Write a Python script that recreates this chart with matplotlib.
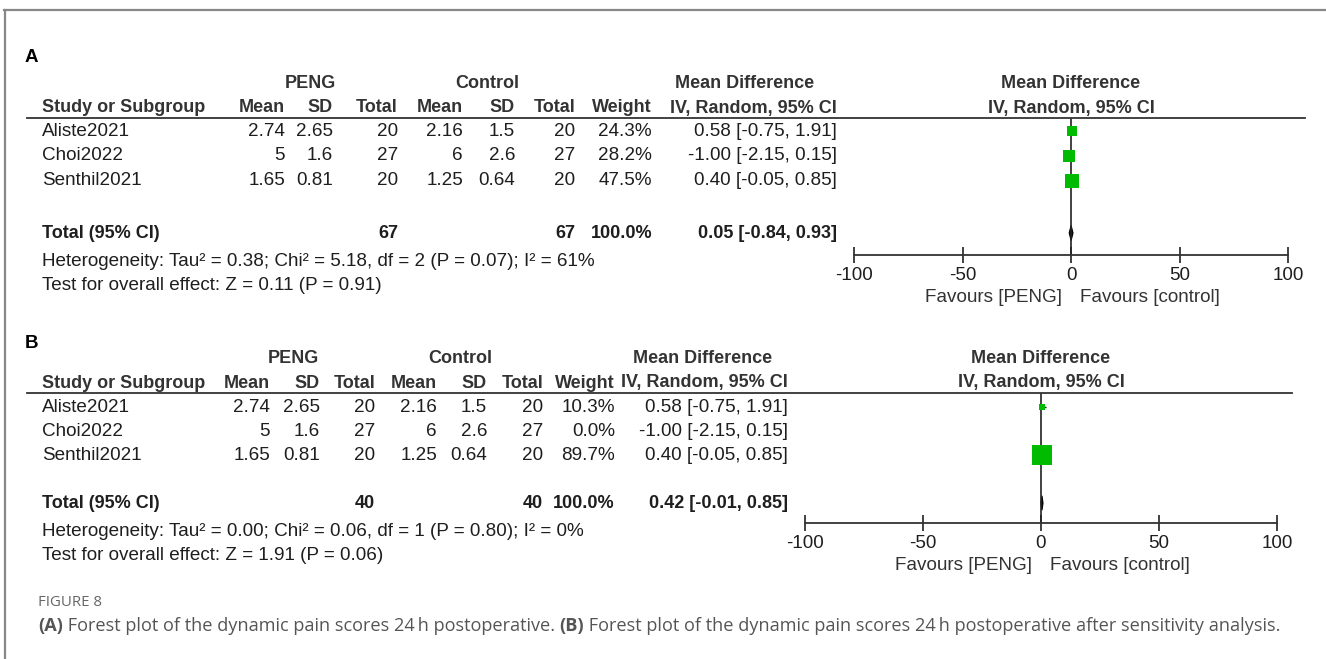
import matplotlib
matplotlib.use('Agg')
import matplotlib.pyplot as plt
from matplotlib.lines import Line2D
import numpy as np

# 데이터
studies = ['Aliste2021', 'Choi2022', 'Senthil2021']
peng_mean = [2.74, 5, 1.65]
peng_sd = [2.65, 1.6, 0.81]
peng_n = [20, 27, 20]
ctrl_mean = [2.16, 6, 1.25]
ctrl_sd = [1.5, 2.6, 0.64]
ctrl_n = [20, 27, 20]
md = [0.58, -1.00, 0.40]
ci_lo = [-0.75, -2.15, -0.05]
ci_hi = [1.91, 0.15, 0.85]

weight_a = [24.3, 28.2, 47.5]
weight_b = [10.3, 0.0, 89.7]
total_n_a = [67, 67]
total_n_b = [40, 40]
total_md_a = [0.05, -0.84, 0.93]
total_md_b = [0.42, -0.01, 0.85]
het_a = 'Heterogeneity: Tau² = 0.38; Chi² = 5.18, df = 2 (P = 0.07); I² = 61%'
test_a = 'Test for overall effect: Z = 0.11 (P = 0.91)'
het_b = 'Heterogeneity: Tau² = 0.00; Chi² = 0.06, df = 1 (P = 0.80); I² = 0%'
test_b = 'Test for overall effect: Z = 1.91 (P = 0.06)'
xticks = [-100, -50, 0, 50, 100]

W, H = 1326, 659
fig = plt.figure(figsize=(W / 100, H / 100), dpi=100)
fig.patch.set_facecolor('white')

FONT = 'Liberation Sans'
FS = 13.6      # 일반 텍스트
FSB = 13.0     # 굵은 텍스트
TXT = '#1e1e1e'
HEAD = '#333333'
GREEN = '#00bb00'


def fx(x):
    return x / W


def fy(y):
    return 1 - y / H


def put(x, y, s, ha='left', bold=False, size=None, color=TXT, family=FONT):
    if size is None:
        size = FSB if bold else FS
    return fig.text(fx(x), fy(y), s, ha=ha, va='center', fontsize=size,
                    fontweight='bold' if bold else 'normal', color=color,
                    family=family)


def hline(x0, x1, y, color='#333333', lw=1.3):
    fig.add_artist(Line2D([fx(x0), fx(x1)], [fy(y), fy(y)], color=color, lw=lw))


def panel(label, lay, weights, tot_n, tot_md, het, test):
    y0 = lay['top']
    put(25, lay['label_y'], label, bold=True, size=13.5, color='black')
    # 그룹 헤더
    put(lay['peng_c'], y0 - 34, 'PENG', ha='center', bold=True, color=HEAD)
    put(lay['ctrl_c'], y0 - 34, 'Control', ha='center', bold=True, color=HEAD)
    put(lay['md_c'], y0 - 34, 'Mean Difference', ha='center', bold=True, color=HEAD)
    cols = lay['cols']
    heads = ['Mean', 'SD', 'Total', 'Mean', 'SD', 'Total', 'Weight', 'IV, Random, 95% CI']
    put(42, y0 - 10, 'Study or Subgroup', bold=True, color=HEAD)
    for c, h in zip(cols, heads):
        put(c, y0 - 10, h, ha='right', bold=True, color=HEAD)
    hline(27, lay['line_end'], y0)

    rows = lay['rows']
    for i, s in enumerate(studies):
        yy = rows[i]
        vals = ['{:g}'.format(peng_mean[i]), '{:g}'.format(peng_sd[i]), str(peng_n[i]),
                '{:g}'.format(ctrl_mean[i]), '{:g}'.format(ctrl_sd[i]), str(ctrl_n[i]),
                '{:.1f}%'.format(weights[i]),
                '{:.2f} [{:.2f}, {:.2f}]'.format(md[i], ci_lo[i], ci_hi[i])]
        put(42, yy, s)
        for c, v in zip(cols, vals):
            put(c, yy, v, ha='right')
    yt = lay['total_y']
    put(42, yt, 'Total (95% CI)', bold=True)
    put(cols[2], yt, str(tot_n[0]), ha='right', bold=True)
    put(cols[5], yt, str(tot_n[1]), ha='right', bold=True)
    put(cols[6], yt, '100.0%', ha='right', bold=True)
    put(cols[7], yt, '{:.2f} [{:.2f}, {:.2f}]'.format(*tot_md), ha='right', bold=True)
    put(42, yt + 28, het)
    put(42, yt + 52, test)

    # 포레스트 플롯
    xl, xr, ya = lay['ax_l'], lay['ax_r'], lay['axis_y']
    fc = (xl + xr) / 2
    put(fc, y0 - 34, 'Mean Difference', ha='center', bold=True, color=HEAD)
    put(fc, y0 - 10, 'IV, Random, 95% CI', ha='center', bold=True, color=HEAD)
    ax = fig.add_axes([fx(xl), fy(ya), (xr - xl) / W, (ya - y0) / H])
    ax.set_xlim(-100, 100)
    step = (rows[1] - rows[0])
    ax.set_ylim((ya - rows[0]) / step, (y0 - rows[0]) / step)
    ax.patch.set_alpha(0)
    for sp in ['top', 'left', 'right']:
        ax.spines[sp].set_visible(False)
    ax.spines['bottom'].set_linewidth(1.3)
    ax.spines['bottom'].set_color('#333333')
    ax.set_yticks([])
    ax.set_xticks(xticks)
    ax.set_xticklabels([str(t) for t in xticks], family=FONT, fontsize=FS, color=TXT)
    ax.tick_params(axis='x', direction='inout', length=11, width=1.3, color='#333333', pad=3)
    ax.axvline(0, color='#222222', lw=1.2)
    for i in range(len(studies)):
        if weights[i] > 0:
            ax.hlines(i, ci_lo[i], ci_hi[i], color='black', lw=1)
            side = 2.1 * np.sqrt(weights[i]) * 0.72
            ax.plot(md[i], i, marker='s', ms=side, color=GREEN, mec=GREEN, mew=0)
    ty = (yt - rows[0]) / step
    m, lo, hi = tot_md
    ax.fill([lo, m, hi, m], [ty, ty - 0.3, ty, ty + 0.3], color='black', lw=0.8)
    zx = xl + (xr - xl) / 2
    put(zx - 9, ya + 43, 'Favours [PENG]', ha='right', color=HEAD)
    put(zx + 9, ya + 43, 'Favours [control]', ha='left', color=HEAD)


lay_a = dict(top=118, label_y=57, peng_c=310, ctrl_c=487, md_c=745,
             cols=[285, 333, 398, 463, 515, 575, 652, 837], line_end=1305,
             rows=[131, 156, 181], total_y=233, ax_l=854, ax_r=1288, axis_y=255)
lay_b = dict(top=393, label_y=343, peng_c=293, ctrl_c=460, md_c=703,
             cols=[270, 320, 375, 437, 487, 543, 615, 788], line_end=1292,
             rows=[407, 431, 455], total_y=503, ax_l=805, ax_r=1277, axis_y=523)

panel('A', lay_a, weight_a, total_n_a, total_md_a, het_a, test_a)
panel('B', lay_b, weight_b, total_n_b, total_md_b, het_b, test_b)

# 테두리
fig.add_artist(Line2D([fx(4), fx(W)], [fy(10), fy(10)], color='#888888', lw=1.6))
fig.add_artist(Line2D([fx(4.5), fx(4.5)], [fy(10), fy(H)], color='#888888', lw=1.6))

# 캡션
CAP = ['Open Sans', 'DejaVu Sans']
put(38, 602, 'FIGURE 8', size=10.8, color='#666666', family=CAP)
pieces = [('(A)', True), (' Forest plot of the dynamic pain scores 24\u2009h postoperative. ', False),
          ('(B)', True), (' Forest plot of the dynamic pain scores 24\u2009h postoperative after sensitivity analysis.', False)]
renderer = fig.canvas.get_renderer()
x = 38
for s, b in pieces:
    t = put(x, 626, s, bold=b, size=13.1, color='#555555', family=CAP)
    bb = t.get_window_extent(renderer)
    x += bb.width

fig.savefig('out.png', dpi=100)
